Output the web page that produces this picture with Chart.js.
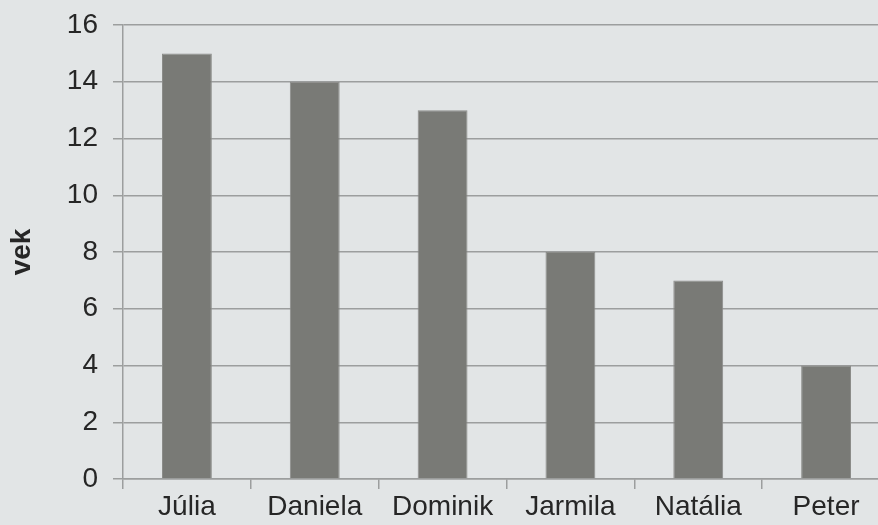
<!DOCTYPE html>
<html>
<head>
<meta charset="utf-8">
<script src="https://cdn.jsdelivr.net/npm/chart.js@4/dist/chart.umd.min.js"></script>
<style>
  html, body { margin: 0; padding: 0; background: #e2e5e6; overflow: hidden; }
  #wrap { width: 890px; height: 525px; }
</style>
</head>
<body>
<div id="wrap"><canvas id="chart" width="890" height="525"></canvas></div>
<script>
// chart data
const names = ['Júlia', 'Daniela', 'Dominik', 'Jarmila', 'Natália', 'Peter'];
const ages = [15, 14, 13, 8, 7, 4];
const yTicks = [0, 2, 4, 6, 8, 10, 12, 14, 16];

const gridColor = '#9c9e9e';
const textColor = '#262626';

const ctx = document.getElementById('chart').getContext('2d');
new Chart(ctx, {
    type: 'bar',
    data: {
        labels: names,
        datasets: [{
            label: 'vek',
            data: ages,
            backgroundColor: '#797a76',
            borderColor: '#8c8d8a',
            borderWidth: 1,
            barPercentage: 0.39,
            categoryPercentage: 1
        }]
    },
    options: {
        responsive: false,
        animation: false,
        layout: { padding: { top: 25, right: 0, bottom: 0, left: 0 } },
        plugins: {
            legend: { display: false },
            tooltip: { enabled: false }
        },
        scales: {
            x: {
                offset: true,
                grid: {
                    offset: true,
                    drawOnChartArea: false,
                    drawTicks: true,
                    tickLength: 10,
                    color: gridColor,
                    lineWidth: 1.5
                },
                border: { color: gridColor, width: 1.5 },
                ticks: {
                    color: textColor,
                    padding: 1,
                    font: { family: 'Liberation Sans, Arial', size: 28 }
                },
                afterFit: function(scale) { scale.height = 46; }
            },
            y: {
                min: 0,
                max: 16,
                afterBuildTicks: function(scale) {
                    scale.ticks = yTicks.map(v => ({ value: v }));
                },
                grid: {
                    color: gridColor,
                    lineWidth: 1.5,
                    tickLength: 10
                },
                border: { color: gridColor, width: 1.5 },
                ticks: {
                    color: textColor,
                    padding: 15,
                    font: { family: 'Liberation Sans, Arial', size: 28 }
                },
                title: {
                    display: true,
                    text: 'vek',
                    color: textColor,
                    padding: { top: 5, bottom: 0 },
                    font: { family: 'Liberation Sans, Arial', size: 28, weight: 'bold' }
                },
                afterFit: function(scale) {
                    scale.width = 123;
                    scale.paddingTop = 0;
                    scale.paddingBottom = 0;
                }
            }
        }
    }
});
</script>
</body>
</html>
